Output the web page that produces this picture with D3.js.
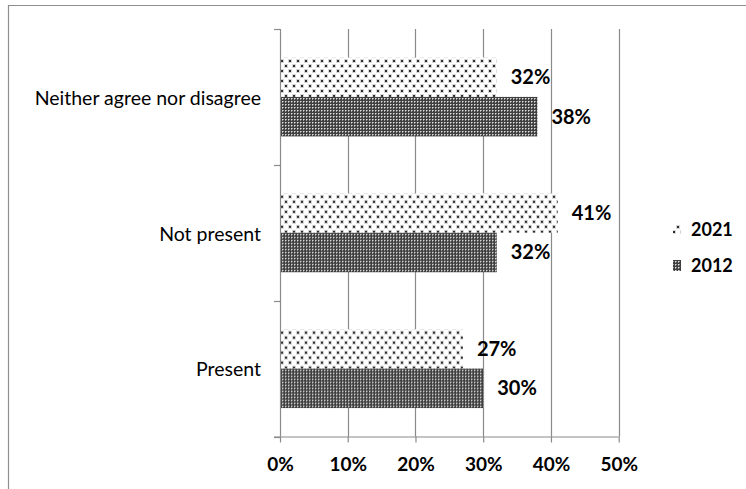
<!DOCTYPE html>
<html>
<head>
<meta charset="utf-8">
<script src="https://cdn.jsdelivr.net/npm/d3@7"></script>
<style>
  html, body { margin: 0; padding: 0; background: #fff; }
  svg { display: block; }
  text { font-family: Lato, "Open Sans", "Liberation Sans", sans-serif; fill: #000; }
</style>
</head>
<body>
<svg id="chart" width="746" height="489"></svg>
<script>
// Survey responses, share of respondents by year
const categories = ["Neither agree nor disagree", "Not present", "Present"];
const seriesNames = ["2021", "2012"];
const values2021 = [32, 41, 27];
const values2012 = [38, 32, 30];
const xTicks = [0, 10, 20, 30, 40, 50];

const svg = d3.select("#chart");
const W = 746, H = 489;

// Fill patterns: light dotted grid for 2021, dense dark checker for 2012
const defs = svg.append("defs");
const dots = defs.append("pattern")
  .attr("id", "pat2021").attr("patternUnits", "userSpaceOnUse")
  .attr("width", 8).attr("height", 10);
dots.append("rect").attr("width", 8).attr("height", 10).attr("fill", "#fff");
[[1, 1], [5, 6]].forEach(([x, y]) => {
  dots.append("rect").attr("x", x - 1).attr("y", y - 1).attr("width", 4).attr("height", 4)
    .attr("fill", "#d6d6d6").attr("shape-rendering", "crispEdges");
  dots.append("rect").attr("x", x).attr("y", y).attr("width", 2).attr("height", 2)
    .attr("fill", "#2e2e2e").attr("shape-rendering", "crispEdges");
});

const chk = defs.append("pattern")
  .attr("id", "pat2012").attr("patternUnits", "userSpaceOnUse")
  .attr("width", 3).attr("height", 3);
chk.append("rect").attr("width", 3).attr("height", 3).attr("fill", "#404040");
[[0, 0, "#e0e0e0"], [1, 0, "#999"], [0, 1, "#999"]].forEach(([x, y, c]) => {
  chk.append("rect").attr("x", x).attr("y", y).attr("width", 1).attr("height", 1)
    .attr("fill", c).attr("shape-rendering", "crispEdges");
});
const fills = { "2021": "url(#pat2021)", "2012": "url(#pat2012)" };

// Outer frame (open to the right and bottom)
svg.append("path")
  .attr("d", `M8.5,${H} V5.5 H${W}`)
  .attr("fill", "none").attr("stroke", "#8e8e8e").attr("stroke-width", 1.2);

// Plot area
const plot = { left: 280, right: 618.7, top: 29, bottom: 436.5 };

const x = d3.scaleLinear().domain([0, 50]).range([plot.left, plot.right]);
const y = d3.scaleBand().domain(categories).range([plot.top, plot.bottom]);
const inner = d3.scaleBand().domain(seriesNames)
  .range([0, y.bandwidth()]).paddingOuter(0.72);

const axisColor = "#8a8a8a";

// Vertical gridlines
svg.append("g").selectAll("line")
  .data(xTicks.slice(1))
  .join("line")
  .attr("x1", d => Math.round(x(d)) + 0.5).attr("x2", d => Math.round(x(d)) + 0.5)
  .attr("y1", plot.top).attr("y2", plot.bottom)
  .attr("stroke", axisColor).attr("stroke-width", 1.2);

// Bars
const rows = categories.map((c, i) => ({ cat: c, vals: { "2021": values2021[i], "2012": values2012[i] } }));
const groups = svg.append("g").selectAll("g")
  .data(rows).join("g")
  .attr("transform", d => `translate(0,${y(d.cat)})`);

groups.selectAll("rect")
  .data(d => seriesNames.map(s => ({ s, v: d.vals[s] })))
  .join("rect")
  .attr("x", x(0))
  .attr("y", d => inner(d.s))
  .attr("width", d => x(d.v) - x(0))
  .attr("height", inner.bandwidth())
  .attr("fill", d => fills[d.s]);

// Value labels
groups.selectAll("text.val")
  .data(d => seriesNames.map(s => ({ s, v: d.vals[s] })))
  .join("text")
  .attr("class", "val")
  .attr("x", d => x(d.v) + 14)
  .attr("y", d => inner(d.s) + inner.bandwidth() / 2)
  .attr("dy", "0.35em")
  .attr("font-size", 20).attr("font-weight", 700)
  .text(d => d.v + "%");

// X axis
const xAxis = d3.axisBottom(x).tickValues(xTicks)
  .tickFormat(d => d + "%").tickSize(6).tickSizeOuter(0).tickPadding(15);
const gx = svg.append("g").attr("transform", `translate(0,${plot.bottom})`).call(xAxis);
gx.select(".domain").attr("stroke", axisColor).attr("stroke-width", 1.2)
  .attr("d", `M${plot.left - 6},0.5H${plot.right}`);
gx.selectAll(".tick line").attr("stroke", axisColor).attr("stroke-width", 1.2);
gx.selectAll(".tick text")
  .attr("font-size", 19).attr("font-weight", 700)
  .attr("font-family", "Lato, sans-serif").attr("fill", "#000");

// Y axis: category boundaries as ticks, labels centred in each band
const bounds = categories.map(c => y(c)).concat([plot.bottom]);
const gy = svg.append("g");
gy.append("line")
  .attr("x1", plot.left + 0.5).attr("x2", plot.left + 0.5)
  .attr("y1", plot.top).attr("y2", plot.bottom)
  .attr("stroke", axisColor).attr("stroke-width", 1.2);
gy.selectAll("line.tk").data(bounds).join("line")
  .attr("class", "tk")
  .attr("x1", plot.left - 6).attr("x2", plot.left)
  .attr("y1", d => Math.round(d) + 0.5).attr("y2", d => Math.round(d) + 0.5)
  .attr("stroke", axisColor).attr("stroke-width", 1.2);
gy.selectAll("text").data(categories).join("text")
  .attr("x", 261)
  .attr("y", d => y(d) + y.bandwidth() / 2 + 1)
  .attr("dy", "0.35em")
  .attr("text-anchor", "end")
  .attr("font-size", 19.5)
  .text(d => d);

// Legend
const legend = svg.append("g");
const legendY = { "2021": 230, "2012": 266 };
seriesNames.forEach(s => {
  legend.append("rect")
    .attr("x", 673).attr("y", legendY[s] - 6)
    .attr("width", 8).attr("height", 11)
    .attr("fill", fills[s]);
  legend.append("text")
    .attr("x", 691).attr("y", legendY[s]).attr("dy", "0.35em")
    .attr("font-size", 18).attr("font-weight", 700)
    .text(s);
});
</script>
</body>
</html>
